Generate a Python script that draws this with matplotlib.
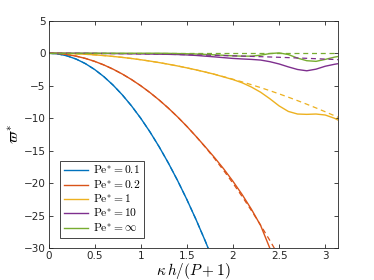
import numpy as np
import matplotlib
matplotlib.use('Agg')
import matplotlib.pyplot as plt

plt.rcParams['mathtext.fontset'] = 'cm'
plt.rcParams['font.family'] = 'DejaVu Sans'

# x grid: kappa h / (P+1)
x = [0.0, 0.1, 0.2, 0.3, 0.4, 0.5, 0.6, 0.7, 0.8, 0.9, 1.0, 1.1, 1.2, 1.3, 1.4, 1.5,
     1.6, 1.7, 1.8, 1.9, 2.0, 2.1, 2.2, 2.3, 2.4, 2.5, 2.6, 2.7, 2.8, 2.9, 3.0, 3.1, 3.1416]

# Pe* = 0.1 (solid == dashed)
pe01 = [0, -0.1, -0.4, -0.9, -1.6, -2.5, -3.6, -4.9, -6.4, -8.1, -10.0, -12.1, -14.4,
        -16.9, -19.6, -22.5, -25.6, -28.9, -32.4]

# Pe* = 0.2
pe02 = [0, -0.05, -0.2, -0.45, -0.8, -1.25, -1.8, -2.45, -3.2, -4.05, -5.0, -6.05, -7.2,
        -8.45, -9.8, -11.25, -12.8, -14.4, -16.05, -17.8, -19.7, -21.75, -24.0, -26.5,
        -30.0, -33.5]
pe02_d = [0, -0.05, -0.2, -0.45, -0.8, -1.25, -1.8, -2.45, -3.2, -4.05, -5.0, -6.05, -7.2,
          -8.45, -9.8, -11.25, -12.8, -14.45, -16.2, -18.05, -20.0, -22.05, -24.2, -26.45,
          -28.8, -31.25]

# Pe* = 1
pe1 = [0, -0.01, -0.04, -0.09, -0.16, -0.25, -0.36, -0.49, -0.64, -0.81, -1.0, -1.21,
       -1.44, -1.69, -1.96, -2.25, -2.56, -2.89, -3.24, -3.65, -4.05, -4.55, -5.2, -6.0,
       -7.0, -8.1, -8.95, -9.35, -9.4, -9.35, -9.5, -10.0, -10.3]
pe1_d = [0, -0.01, -0.04, -0.09, -0.16, -0.25, -0.36, -0.49, -0.64, -0.81, -1.0, -1.21,
         -1.44, -1.69, -1.96, -2.25, -2.56, -2.89, -3.24, -3.61, -4.0, -4.41, -4.84, -5.29,
         -5.76, -6.25, -6.76, -7.29, -7.84, -8.41, -9.0, -9.61, -9.87]

# Pe* = 10
pe10 = [0, -0.001, -0.004, -0.009, -0.016, -0.025, -0.036, -0.049, -0.064, -0.081, -0.1,
        -0.121, -0.144, -0.17, -0.2, -0.26, -0.34, -0.45, -0.56, -0.68, -0.8, -0.88, -0.95,
        -1.05, -1.3, -1.65, -2.1, -2.5, -2.7, -2.45, -2.0, -1.7, -1.6]
pe10_d = [0, -0.001, -0.004, -0.009, -0.016, -0.025, -0.036, -0.049, -0.064, -0.081, -0.1,
          -0.121, -0.144, -0.169, -0.196, -0.225, -0.256, -0.289, -0.324, -0.361, -0.4,
          -0.441, -0.484, -0.529, -0.576, -0.625, -0.676, -0.729, -0.784, -0.841, -0.9,
          -0.961, -0.987]

# Pe* = inf
peinf = [0, 0, 0, 0, 0, 0, 0, 0, 0, 0, 0, 0, 0, -0.02, -0.05, -0.08, -0.12, -0.18, -0.25,
         -0.32, -0.4, -0.45, -0.45, -0.3, -0.05, 0.05, -0.2, -0.75, -1.15, -1.25, -0.95,
         -0.6, -0.5]
peinf_d = [0.0] * 33

labels = [r'$\mathrm{Pe}^{*} = 0.1$', r'$\mathrm{Pe}^{*} = 0.2$', r'$\mathrm{Pe}^{*} = 1$',
          r'$\mathrm{Pe}^{*} = 10$', r'$\mathrm{Pe}^{*} = \infty$']
colors = ['#0072BD', '#D95319', '#EDB120', '#7E2F8E', '#77AC30']

solid = [pe01, pe02, pe1, pe10, peinf]
dashed = [pe01, pe02_d, pe1_d, pe10_d, peinf_d]

fig = plt.figure(figsize=(3.74, 2.80), dpi=100)
ax = fig.add_axes([0.1297, 0.1132, 0.7748, 0.8128])

for s, c, lab in zip(solid, colors, labels):
    ax.plot(x[:len(s)], s, color=c, lw=1.0, label=lab)
for d, c in zip(dashed, colors):
    ax.plot(x[:len(d)], d, color=c, lw=0.9, ls=(0, (4, 3)))

ax.set_xlim(0, np.pi)
ax.set_ylim(-30, 5)
ax.set_xticks([0, 0.5, 1, 1.5, 2, 2.5, 3])
ax.set_xticklabels(['0', '0.5', '1', '1.5', '2', '2.5', '3'])
ax.set_yticks(np.arange(-30, 6, 5))
ax.tick_params(direction='in', length=3, width=0.6, labelsize=7.5, colors='0.15',
               top=True, right=True, pad=2)
for sp in ax.spines.values():
    sp.set_color('0.15')
    sp.set_linewidth(0.6)

ax.set_xlabel(r'$\kappa\, h/(P+1)$', fontsize=11, labelpad=0)
ax.set_ylabel(r'$\varpi^{*}$', fontsize=11, labelpad=1)

leg = ax.legend(loc='lower left', bbox_to_anchor=(0.041, 0.044), borderaxespad=0,
                fontsize=8.3, fancybox=False, edgecolor='0.15', framealpha=1,
                handlelength=2.1, labelspacing=0.12, borderpad=0.3, handletextpad=0.4)
leg.get_frame().set_linewidth(0.6)

fig.savefig('out.png', dpi=100)
